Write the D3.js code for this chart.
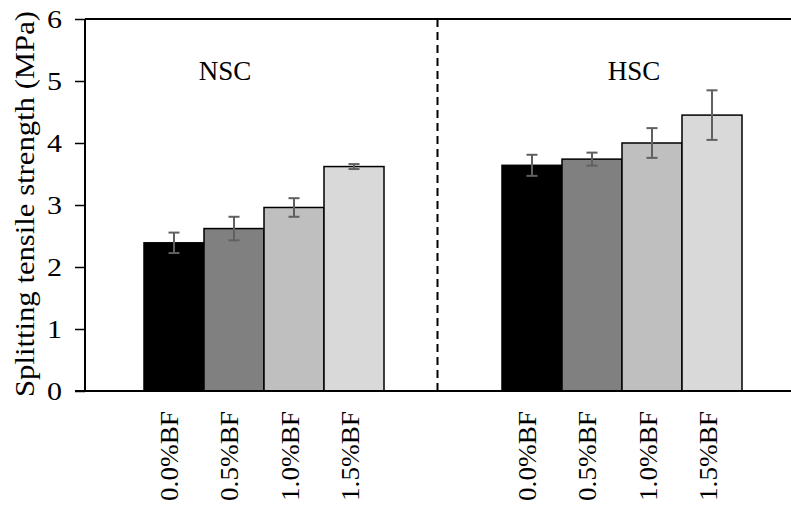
<!DOCTYPE html>
<html>
<head>
<meta charset="utf-8">
<script src="https://cdn.jsdelivr.net/npm/d3@7/dist/d3.min.js"></script>
<style>
  html, body { margin: 0; padding: 0; background: #fff; }
  svg { display: block; }
  text { font-family: "Times New Roman", Times, "Liberation Serif", serif; fill: #000; }
</style>
</head>
<body>
<svg id="chart" width="791" height="508"></svg>
<script>
// ---- data ----
const groups = ["NSC", "HSC"];
const fibers = ["0.0%BF", "0.5%BF", "1.0%BF", "1.5%BF"];
const nscValues = [2.39, 2.62, 2.96, 3.62];
const nscErrors = [0.165, 0.19, 0.15, 0.04];
const hscValues = [3.64, 3.74, 4.00, 4.45];
const hscErrors = [0.17, 0.105, 0.24, 0.40];
const yTicks = [0, 1, 2, 3, 4, 5, 6];
const yTitle = "Splitting tensile strength (MPa)";
const fiberColors = ["#000000", "#808080", "#bfbfbf", "#d9d9d9"];

const FONT = "'Times New Roman', Times, 'Liberation Serif', serif";

const rows = [];
groups.forEach((g, gi) => {
  const vals = gi === 0 ? nscValues : hscValues;
  const errs = gi === 0 ? nscErrors : hscErrors;
  fibers.forEach((f, fi) => rows.push({ group: g, fiber: f, value: vals[fi], err: errs[fi], fi }));
});

const svg = d3.select("#chart");
const mLeft = 85, mTop = 19, mBottom = 391, mRight = 801;

const y = d3.scaleLinear().domain([0, 6]).range([mBottom, mTop]);
const x0 = d3.scaleBand().domain(groups).range([mLeft, mRight])
  .paddingInner(0.3296).paddingOuter(0.1648);
const x1 = d3.scaleBand().domain(fibers).range([0, x0.bandwidth()]).padding(0);
const color = d3.scaleOrdinal().domain(fibers).range(fiberColors);

// top frame line
svg.append("line").attr("x1", mLeft).attr("x2", 791).attr("y1", mTop).attr("y2", mTop)
  .attr("stroke", "#000").attr("stroke-width", 2);

// divider dashed line
const divX = (x0("NSC") + x0.bandwidth() + x0("HSC")) / 2 - 5.5;
svg.append("line").attr("x1", divX).attr("x2", divX).attr("y1", mTop).attr("y2", mBottom)
  .attr("stroke", "#000").attr("stroke-width", 2).attr("stroke-dasharray", "8,5");

// bars
svg.append("g").selectAll("rect").data(rows).join("rect")
  .attr("x", d => x0(d.group) + x1(d.fiber))
  .attr("y", d => y(d.value))
  .attr("width", x1.bandwidth())
  .attr("height", d => y(0) - y(d.value))
  .attr("fill", d => color(d.fiber))
  .attr("stroke", "#000").attr("stroke-width", 1.5);

// error bars
const eg = svg.append("g").attr("stroke", "#606060").attr("stroke-width", 2);
rows.forEach(d => {
  const cx = x0(d.group) + x1(d.fiber) + x1.bandwidth() / 2;
  eg.append("line").attr("x1", cx).attr("x2", cx).attr("y1", y(d.value + d.err)).attr("y2", y(d.value - d.err));
  eg.append("line").attr("x1", cx - 5.5).attr("x2", cx + 5.5).attr("y1", y(d.value + d.err)).attr("y2", y(d.value + d.err));
  eg.append("line").attr("x1", cx - 5.5).attr("x2", cx + 5.5).attr("y1", y(d.value - d.err)).attr("y2", y(d.value - d.err));
});

// x axis line
svg.append("line").attr("x1", mLeft - 10).attr("x2", 791).attr("y1", mBottom).attr("y2", mBottom)
  .attr("stroke", "#000").attr("stroke-width", 2);

// y axis
const yAxis = svg.append("g").attr("transform", `translate(${mLeft},0)`)
  .call(d3.axisLeft(y).tickValues(yTicks).tickFormat(d3.format("d")).tickSize(10).tickPadding(13));
yAxis.select(".domain").attr("stroke", "#000").attr("stroke-width", 2).attr("d", `M0,${mTop}V${mBottom}`);
yAxis.selectAll(".tick line").attr("stroke", "#000").attr("stroke-width", 1.5);
yAxis.selectAll(".tick text").attr("font-size", 26).attr("font-family", FONT)
  .attr("fill", "#000").attr("textLength", 15).attr("lengthAdjust", "spacingAndGlyphs").attr("dy", "0.34em");

// x labels (rotated)
svg.append("g").selectAll("text").data(rows).join("text")
  .attr("transform", d => `translate(${x0(d.group) + x1(d.fiber) + x1.bandwidth() / 2},411) rotate(-90)`)
  .attr("text-anchor", "end")
  .attr("dy", "0.18em")
  .attr("font-size", 25)
  .attr("font-family", FONT)
  .attr("textLength", 90).attr("lengthAdjust", "spacingAndGlyphs")
  .text(d => d.fiber);

// group labels
svg.append("g").selectAll("text").data(groups).join("text")
  .attr("x", (g, i) => i === 0 ? 225 : 634)
  .attr("y", 80)
  .attr("text-anchor", "middle")
  .attr("font-size", 27)
  .attr("font-family", FONT)
  .text(g => g);

// y title
svg.append("text")
  .attr("transform", `translate(34,${(mTop + mBottom) / 2 - 1}) rotate(-90)`)
  .attr("text-anchor", "middle")
  .attr("font-size", 27)
  .attr("font-family", FONT)
  .attr("textLength", 386).attr("lengthAdjust", "spacingAndGlyphs")
  .text(yTitle);
</script>
</body>
</html>
